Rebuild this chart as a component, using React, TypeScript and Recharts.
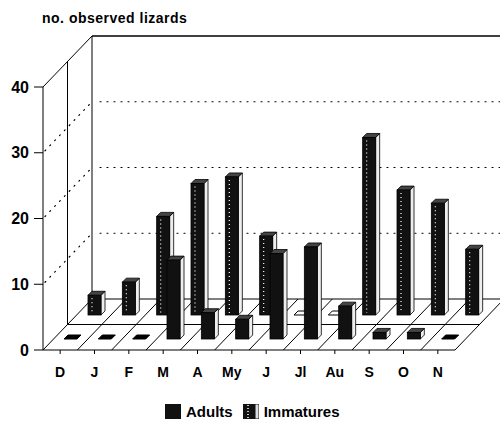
import { BarChart, Bar, XAxis, YAxis, Legend } from "recharts";

// ── data ──
const months = ["D", "J", "F", "M", "A", "My", "J", "Jl", "Au", "S", "O", "N"];
const adults = [0, 0, 0, 12, 4, 3, 13, 14, 5, 1, 1, 0];
const immatures = [3, 5, 15, 20, 21, 12, 0, 0, 27, 19, 17, 10];
const yTicks = [0, 10, 20, 30, 40];

const data = months.map((month, i) => ({
  month,
  adults: adults[i],
  immatures: immatures[i],
}));

// ── layout ──
const W = 500;
const H = 427;
const LEFT = 43;
const RIGHT = 455;
const TOP = 87;
const BOTTOM = 350;
const DX = 49; // depth of the box, horizontal
const DY = 51; // depth of the box, vertical
const FONT = '"Liberation Sans", Arial, Helvetica, sans-serif';

const yPx = (v: number) => BOTTOM - (v / 40) * (BOTTOM - TOP);

// walls, floor and the dotted grid behind the bars
function Backdrop() {
  const band = (RIGHT - LEFT) / months.length;
  const dotted = {
    stroke: "#000",
    strokeWidth: 1.2,
    strokeDasharray: "1 6",
    strokeLinecap: "round" as const,
  };
  const line = { stroke: "#000", strokeWidth: 1 };
  const bounds = Array.from({ length: months.length + 1 }, (_, i) => LEFT + i * band);

  return (
    <svg width={W} height={H} style={{ position: "absolute", left: 0, top: 0 }}>
      <text
        x={42}
        y={23}
        fontFamily={FONT}
        fontWeight="bold"
        fontSize={14}
        letterSpacing={0.5}
        fill="#000"
      >
        no. observed lizards
      </text>

      {/* left wall */}
      <line x1={LEFT} y1={TOP} x2={LEFT + DX} y2={TOP - DY} {...line} />
      <line x1={LEFT + DX / 2} y1={TOP - DY / 2} x2={LEFT + DX / 2} y2={BOTTOM - DY / 2} {...line} />
      <line x1={LEFT + DX} y1={TOP - DY} x2={LEFT + DX} y2={BOTTOM - DY} {...line} />
      <line x1={LEFT + DX} y1={TOP - DY} x2={W} y2={TOP - DY} {...line} strokeWidth={1.3} />

      {yTicks.slice(1, -1).map((v) => (
        <g key={v}>
          <line x1={LEFT + 2} y1={yPx(v) - 2} x2={LEFT + DX} y2={yPx(v) - DY} {...dotted} />
          <line x1={LEFT + DX + 8} y1={yPx(v) - DY} x2={W} y2={yPx(v) - DY} {...dotted} />
        </g>
      ))}

      {/* floor */}
      <line x1={LEFT + DX} y1={BOTTOM - DY} x2={W} y2={BOTTOM - DY} {...line} />
      <line
        x1={LEFT + DX / 2}
        y1={BOTTOM - DY / 2}
        x2={RIGHT + DX / 2}
        y2={BOTTOM - DY / 2}
        {...line}
      />
      {bounds.map((bx, i) => (
        <line key={i} x1={bx} y1={BOTTOM} x2={bx + DX} y2={BOTTOM - DY} {...line} />
      ))}
    </svg>
  );
}

// 3D-looking box drawn from the bar rectangle that recharts computes
const makeBox = (dx: number, dy: number, stippled: boolean) => (props: any) => {
  const { x, y, width, height } = props;
  const s = 4;
  const l = x + dx;
  const r = l + width;
  const b = y + height + dy;
  const t = y + dy;

  if (!(height > 0.5)) {
    return (
      <polygon
        points={`${l},${b} ${l + s},${b - s} ${r + s},${b - s} ${r},${b}`}
        fill={stippled ? "#fff" : "#000"}
        stroke="#000"
        strokeWidth={1}
      />
    );
  }

  return (
    <g>
      <polygon
        points={`${r},${t} ${r + s},${t - s} ${r + s},${b - s} ${r},${b}`}
        fill="#eee"
        stroke="#000"
        strokeWidth={0.8}
      />
      <polygon
        points={`${l},${t} ${l + s},${t - s} ${r + s},${t - s} ${r},${t}`}
        fill="#444"
        stroke="#000"
        strokeWidth={0.8}
      />
      <rect x={l} y={t} width={width} height={b - t} fill="#111" stroke="#000" strokeWidth={0.8} />
      {stippled && (
        <line
          x1={l + 4}
          y1={t + 3}
          x2={l + 4}
          y2={b - 2}
          stroke="#fff"
          strokeWidth={1.2}
          strokeDasharray="1 3"
        />
      )}
    </g>
  );
};

const renderLegend = () => (
  <div
    style={{
      display: "flex",
      alignItems: "center",
      marginLeft: 165,
      fontFamily: FONT,
      fontWeight: "bold",
      fontSize: 15,
      color: "#000",
    }}
  >
    <span style={{ width: 16, height: 15, background: "#111", display: "inline-block" }} />
    <span style={{ marginLeft: 5 }}>Adults</span>
    <svg width={16} height={15} style={{ marginLeft: 10 }}>
      <rect x={0} y={0} width={16} height={15} fill="#111" />
      <line x1={5} y1={1} x2={5} y2={14} stroke="#fff" strokeWidth={1.5} strokeDasharray="1 2" />
      <rect x={12} y={0} width={4} height={15} fill="#ddd" stroke="#111" strokeWidth={1} />
    </svg>
    <span style={{ marginLeft: 5 }}>Immatures</span>
  </div>
);

export default function App() {
  return (
    <div style={{ position: "absolute", left: 0, top: 0, width: W, height: H, fontFamily: FONT }}>
      <Backdrop />
      <div style={{ position: "absolute", left: 0, top: 0 }}>
        <BarChart
          width={W}
          height={H}
          data={data}
          margin={{ top: TOP, right: W - RIGHT, left: 0, bottom: 0 }}
        >
          <XAxis xAxisId="back" dataKey="month" hide height={0} />
          <XAxis
            xAxisId="front"
            dataKey="month"
            height={53}
            tickSize={4}
            tickMargin={13}
            axisLine={{ stroke: "#000" }}
            tickLine={{ stroke: "#000" }}
            tick={{ fill: "#000", fontSize: 14, fontWeight: "bold", fontFamily: FONT }}
          />
          <YAxis
            domain={[0, 40]}
            ticks={yTicks}
            width={LEFT}
            tickSize={9}
            tickMargin={5}
            axisLine={{ stroke: "#000" }}
            tickLine={{ stroke: "#000" }}
            tick={{ fill: "#000", fontSize: 16, fontWeight: "bold", fontFamily: FONT }}
          />
          <Legend verticalAlign="bottom" height={24} content={renderLegend} />
          <Bar
            xAxisId="back"
            dataKey="immatures"
            name="Immatures"
            barSize={13}
            shape={makeBox(34, -35, true)}
            isAnimationActive={false}
          />
          <Bar
            xAxisId="front"
            dataKey="adults"
            name="Adults"
            barSize={13}
            shape={makeBox(10, -11, false)}
            isAnimationActive={false}
          />
        </BarChart>
      </div>
    </div>
  );
}
